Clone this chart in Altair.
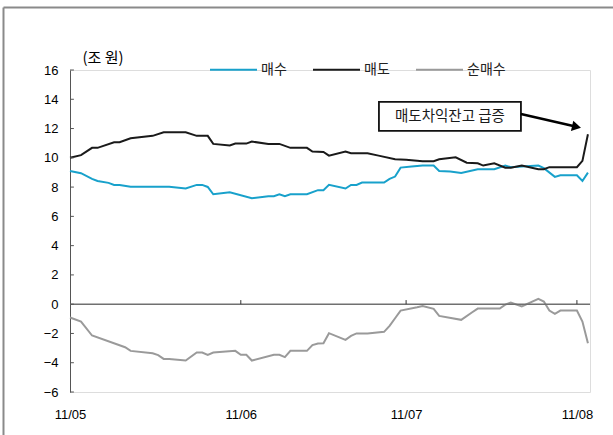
import altair as alt
import pandas as pd

# ---- series values (조 원) ----
buy_dates = ["2011-05-01", "2011-05-03", "2011-05-05", "2011-05-06", "2011-05-08", "2011-05-09",
             "2011-05-10", "2011-05-12", "2011-05-19", "2011-05-22", "2011-05-24", "2011-05-25",
             "2011-05-26", "2011-05-27", "2011-05-30", "2011-06-03", "2011-06-06", "2011-06-07",
             "2011-06-08", "2011-06-09", "2011-06-10", "2011-06-13", "2011-06-15", "2011-06-16",
             "2011-06-17", "2011-06-20", "2011-06-21", "2011-06-22", "2011-06-23", "2011-06-27",
             "2011-06-28", "2011-06-29", "2011-06-30", "2011-07-02", "2011-07-04", "2011-07-06",
             "2011-07-07", "2011-07-09", "2011-07-11", "2011-07-14", "2011-07-17", "2011-07-19",
             "2011-07-20", "2011-07-22", "2011-07-25", "2011-07-26", "2011-07-28", "2011-07-29",
             "2011-08-01", "2011-08-02", "2011-08-03"]
buy_vals = [9.10, 8.95, 8.56, 8.42, 8.29, 8.15,
            8.15, 8.03, 8.03, 7.90, 8.15, 8.15,
            8.01, 7.51, 7.65, 7.24, 7.38, 7.38,
            7.51, 7.38, 7.51, 7.51, 7.79, 7.79,
            8.15, 7.90, 8.15, 8.15, 8.31, 8.31,
            8.56, 8.72, 9.33, 9.40, 9.47, 9.47,
            9.10, 9.06, 8.97, 9.22, 9.22, 9.47,
            9.36, 9.40, 9.47, 9.29, 8.70, 8.81,
            8.81, 8.42, 8.99]

sell_dates = ["2011-05-01", "2011-05-03", "2011-05-05", "2011-05-06", "2011-05-09", "2011-05-10",
              "2011-05-12", "2011-05-16", "2011-05-18", "2011-05-22", "2011-05-24", "2011-05-26",
              "2011-05-27", "2011-05-30", "2011-05-31", "2011-06-02", "2011-06-03", "2011-06-06",
              "2011-06-08", "2011-06-10", "2011-06-13", "2011-06-14", "2011-06-16", "2011-06-17",
              "2011-06-20", "2011-06-21", "2011-06-24", "2011-06-26", "2011-06-29", "2011-07-01",
              "2011-07-04", "2011-07-06", "2011-07-07", "2011-07-10", "2011-07-12", "2011-07-14",
              "2011-07-15", "2011-07-17", "2011-07-19", "2011-07-20", "2011-07-22", "2011-07-25",
              "2011-07-26", "2011-07-27", "2011-08-01", "2011-08-02", "2011-08-03"]
sell_vals = [10.01, 10.18, 10.68, 10.68, 11.06, 11.06,
             11.34, 11.50, 11.75, 11.75, 11.50, 11.50,
             10.95, 10.84, 10.97, 10.97, 11.11, 10.95,
             10.95, 10.68, 10.68, 10.43, 10.40, 10.15,
             10.43, 10.31, 10.31, 10.15, 9.90, 9.86,
             9.77, 9.77, 9.90, 10.04, 9.67, 9.63,
             9.47, 9.63, 9.33, 9.33, 9.47, 9.22,
             9.22, 9.36, 9.36, 9.79, 11.61]

net_dates = ["2011-05-01", "2011-05-03", "2011-05-05", "2011-05-11", "2011-05-12", "2011-05-16",
             "2011-05-17", "2011-05-18", "2011-05-19", "2011-05-22", "2011-05-24", "2011-05-25",
             "2011-05-26", "2011-05-27", "2011-05-31", "2011-06-01", "2011-06-02", "2011-06-03",
             "2011-06-07", "2011-06-08", "2011-06-09", "2011-06-10", "2011-06-13", "2011-06-14",
             "2011-06-15", "2011-06-16", "2011-06-17", "2011-06-20", "2011-06-21", "2011-06-22",
             "2011-06-24", "2011-06-27", "2011-06-28", "2011-06-29", "2011-06-30", "2011-07-03",
             "2011-07-04", "2011-07-06", "2011-07-07", "2011-07-11", "2011-07-13", "2011-07-14",
             "2011-07-18", "2011-07-19", "2011-07-20", "2011-07-22", "2011-07-25", "2011-07-26",
             "2011-07-27", "2011-07-28", "2011-07-29", "2011-08-01", "2011-08-02", "2011-08-03"]
net_vals = [-0.91, -1.19, -2.14, -2.94, -3.19, -3.35,
            -3.48, -3.74, -3.74, -3.85, -3.30, -3.30,
            -3.46, -3.30, -3.19, -3.46, -3.46, -3.85,
            -3.46, -3.46, -3.62, -3.19, -3.19, -2.80,
            -2.69, -2.67, -1.98, -2.44, -2.17, -2.00,
            -2.00, -1.89, -1.48, -0.96, -0.44, -0.21,
            -0.12, -0.32, -0.80, -1.07, -0.55, -0.30,
            -0.30, -0.03, 0.11, -0.16, 0.36, 0.18,
            -0.44, -0.66, -0.44, -0.44, -1.19, -2.67]

series_names = ["매수", "매도", "순매수"]
series_colors = ["#18a1cb", "#1a1a1a", "#9a9a9a"]

y_ticks = [-6, -4, -2, 0, 2, 4, 6, 8, 10, 12, 14, 16]
month_ticks = ["2011-06-01", "2011-07-01", "2011-08-01"]
x_start = "2011-05-01T00:00:00Z"
x_end = "2011-08-03T09:00:00Z"

# callout: box corners, label anchor, arrow path
note_text = "매도차익잔고 급증"
note_box_x = ["2011-06-26T01:40:00Z", "2011-07-21T20:10:00Z"]
note_box_y = [13.82, 11.84]
note_text_x = "2011-07-08T23:00:00Z"
note_text_y = 12.80
arrow_x = ["2011-07-21T20:10:00Z", "2011-07-31T22:20:00Z"]
arrow_y = [13.00, 12.12]

# page frame (top/left edges; the rest runs off the page)
frame_x = ["2011-04-18T22:20:00Z", "2011-08-20T00:00:00Z"]
frame_y = [20.27, -12.0]

# ---- tables ----
frames = []
for name, d, v in [("순매수", net_dates, net_vals),
                   ("매수", buy_dates, buy_vals),
                   ("매도", sell_dates, sell_vals)]:
    frames.append(pd.DataFrame({"date": d, "value": v, "series": name}))
lines_df = pd.concat(frames, ignore_index=True)

x_scale = alt.Scale(
    type="utc",
    domain=[alt.DateTime(year=2011, month=5, date=1, utc=True),
            alt.DateTime(year=2011, month=8, date=3, hours=9, utc=True)],
    nice=False,
)
y_scale = alt.Scale(domain=[-6, 16], nice=False, zero=False)

latin = "Liberation Sans"
hangul = "Noto Sans CJK KR"

x_axis = alt.Axis(
    values=[alt.DateTime(year=2011, month=m, date=1, utc=True) for m in (5, 6, 7, 8)],
    labelExpr="utcFormat(datum.value, '%y/%m')",
    domain=False, ticks=False, grid=False, title=None, labels=True,
    labelFont=latin, labelFontSize=13, labelColor="#000000",
    labelPadding=16, labelFlush=False, labelOverlap=False,
)
y_axis = alt.Axis(
    values=y_ticks, grid=False, ticks=False, labels=True, labelPadding=12,
    domain=True, domainColor="#555555", domainWidth=1,
    labelFont=latin, labelFontSize=13, labelColor="#000000",
    title="(조 원)", titleAngle=0, titleAlign="left", titleBaseline="middle",
    titleX=12, titleY=-13, titleFont=hangul, titleFontSize=15,
    titleFontWeight="normal", titleColor="#000000",
)

# every layer carries the same axis definition so they merge cleanly
X = lambda f: alt.X(f, type="temporal", scale=x_scale, axis=x_axis)
Y = lambda f: alt.Y(f, type="quantitative", scale=y_scale, axis=y_axis)

lines = alt.Chart(lines_df).mark_line(strokeWidth=2).encode(
    x=X("date"),
    y=Y("value"),
    color=alt.Color(
        "series:N",
        scale=alt.Scale(domain=series_names, range=series_colors),
        legend=alt.Legend(
            orient="none", legendX=139, legendY=-25, direction="horizontal",
            title=None, symbolType="stroke", symbolSize=2209, symbolStrokeWidth=2,
            labelFont=hangul, labelFontSize=14, labelColor="#222222",
            labelOffset=3, columnPadding=22,
        ),
    ),
)

# zero line with month ticks standing on it
zero_line = alt.Chart(pd.DataFrame({"x": [x_start], "x2": [x_end], "y": [0]})).mark_rule(
    color="#707070", strokeWidth=1.5
).encode(x=X("x"), x2="x2:T", y=Y("y"))

month_tick_marks = alt.Chart(pd.DataFrame({
    "d": month_ticks, "y": [0] * 3, "y2": [0.28] * 3
})).mark_rule(color="#333333", strokeWidth=1).encode(
    x=X("d"), y=Y("y"), y2="y2:Q",
)

# y-axis ticks pointing into the plot
y_tick_marks = alt.Chart(pd.DataFrame({
    "v": y_ticks, "x": [x_start] * len(y_ticks), "x2": ["2011-05-01T17:00:00Z"] * len(y_ticks)
})).mark_rule(color="#555555", strokeWidth=1).encode(
    y=Y("v"), x=X("x"), x2="x2:T",
)

# callout box, label and arrow
note_box = alt.Chart(pd.DataFrame({
    "x": [note_box_x[0]], "x2": [note_box_x[1]],
    "y": [note_box_y[0]], "y2": [note_box_y[1]],
})).mark_rect(fill="white", stroke="#111111", strokeWidth=1.8).encode(
    x=X("x"), x2="x2:T", y=Y("y"), y2="y2:Q",
)
note_label = alt.Chart(pd.DataFrame({
    "x": [note_text_x], "y": [note_text_y], "t": [note_text],
})).mark_text(font=hangul, fontSize=14.5, color="#1a1a1a").encode(
    x=X("x"), y=Y("y"), text="t:N",
)
arrow_shaft = alt.Chart(pd.DataFrame({
    "x": [arrow_x[0]], "x2": [arrow_x[1]], "y": [arrow_y[0]], "y2": [arrow_y[1]],
})).mark_rule(color="#000000", strokeWidth=2.5).encode(
    x=X("x"), x2="x2:T", y=Y("y"), y2="y2:Q",
)
arrow_head = alt.Chart(pd.DataFrame({
    "x": [arrow_x[1]], "y": [arrow_y[1]],
})).mark_point(shape="triangle-right", filled=True, size=110, angle=13,
               color="#000000", opacity=1).encode(
    x=X("x"), y=Y("y"),
)

# outer frame
frame_top = alt.Chart(pd.DataFrame({
    "x": [frame_x[0]], "x2": [frame_x[1]], "y": [frame_y[0]]
})).mark_rule(color="#8a8a8a", strokeWidth=2).encode(x=X("x"), x2="x2:T", y=Y("y"))
frame_left = alt.Chart(pd.DataFrame({
    "x": [frame_x[0]], "y": [frame_y[0]], "y2": [frame_y[1]]
})).mark_rule(color="#8a8a8a", strokeWidth=2).encode(x=X("x"), y=Y("y"), y2="y2:Q")

chart = alt.layer(
    lines, frame_top, frame_left, zero_line, month_tick_marks, y_tick_marks,
    note_box, note_label, arrow_shaft, arrow_head,
).properties(
    width=520, height=322,
    padding={"left": 70, "top": 70, "right": 23, "bottom": 43},
    autosize=alt.AutoSizeParams(type="none"),
).configure_view(stroke=None).configure(background="white")

chart.save("out.html", embed_options={"renderer": "svg", "actions": False})
